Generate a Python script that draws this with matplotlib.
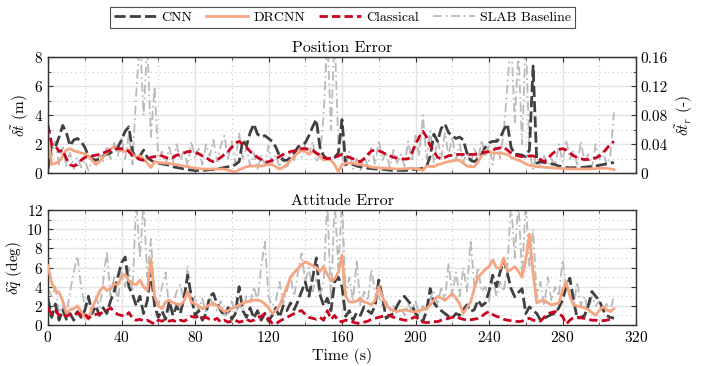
import numpy as np
import matplotlib
matplotlib.use("Agg")
import matplotlib.pyplot as plt
from matplotlib.ticker import MultipleLocator, FixedLocator, FuncFormatter

plt.rcParams["font.family"] = "serif"
plt.rcParams["font.serif"] = ["cmr10"]
plt.rcParams["mathtext.fontset"] = "cm"
plt.rcParams["axes.formatter.use_mathtext"] = True
plt.rcParams["axes.unicode_minus"] = False

# time stamps (s), one sample every 2 s
time = np.arange(0, 310, 2)

labels = ["CNN", "DRCNN", "Classical", "SLAB Baseline"]

# ---- position error (m) ----
pos_cnn = [
    0.3, 2.0, 1.8, 2.5, 3.3, 2.8, 1.9, 2.3, 2.4, 2.2,
    1.8, 1.2, 1.0, 0.9, 1.0, 1.2, 1.3, 1.4, 1.6, 1.8,
    2.3, 2.9, 3.2, 1.5, 1.0, 1.2, 1.6, 1.1, 0.9, 0.75,
    0.7, 0.65, 0.6, 0.55, 0.45, 0.4, 0.35, 0.3, 0.25, 0.22,
    0.2, 0.2, 0.2, 0.22, 0.25, 0.25, 0.3, 0.35, 0.4, 0.45,
    0.5, 0.6, 0.8, 2.3, 1.9, 2.8, 3.4, 2.7, 2.5, 2.6,
    2.4, 2.2, 1.8, 1.2, 0.9, 0.9, 1.1, 1.4, 1.8, 2.0,
    2.1, 2.6, 3.2, 3.7, 1.8, 1.2, 1.0, 1.0, 1.1, 1.4,
    3.7, 0.6, 0.7, 0.6, 0.5, 0.45, 0.4, 0.35, 0.32, 0.3,
    0.3, 0.28, 0.25, 0.22, 0.2, 0.2, 0.2, 0.2, 0.22, 0.25,
    0.28, 0.3, 0.35, 0.45, 1.2, 2.7, 2.2, 3.1, 3.4, 2.8,
    2.6, 2.4, 2.5, 2.3, 1.4, 0.9, 0.8, 1.0, 1.3, 1.8,
    2.1, 2.2, 2.2, 2.4, 3.0, 3.4, 1.8, 1.3, 1.3, 1.25,
    1.15, 1.6, 7.4, 0.7, 0.8, 0.75, 0.7, 0.65, 0.6, 0.5,
    0.45, 0.4, 0.38, 0.38, 0.4, 0.4, 0.42, 0.45, 0.48, 0.5,
    0.55, 0.6, 0.65, 0.7, 0.75,
]
pos_drcnn = [
    2.6, 0.6, 0.7, 0.8, 1.2, 1.6, 1.7, 1.55, 1.5, 1.4,
    1.35, 1.2, 0.9, 0.6, 0.8, 1.1, 1.4, 1.7, 1.8, 1.65,
    1.55, 1.5, 1.6, 1.3, 1.1, 1.2, 1.0, 0.7, 0.4, 0.8,
    0.75, 0.72, 0.7, 0.68, 0.62, 0.6, 0.55, 0.5, 0.45, 0.4,
    0.35, 0.33, 0.3, 0.3, 0.3, 0.3, 0.3, 0.3, 0.28, 0.22,
    0.15, 0.1, 0.25, 0.35, 0.45, 0.5, 0.5, 0.5, 0.5, 0.55,
    0.6, 0.6, 0.45, 0.3, 0.4, 0.6, 0.9, 1.2, 1.4, 1.6,
    1.5, 1.3, 1.5, 1.35, 1.2, 0.9, 1.0, 0.9, 0.6, 0.1,
    0.6, 0.7, 0.7, 0.7, 0.62, 0.6, 0.55, 0.5, 0.42, 0.4,
    0.38, 0.36, 0.35, 0.33, 0.32, 0.3, 0.3, 0.32, 0.33, 0.35,
    0.32, 0.28, 0.2, 0.5, 0.48, 0.45, 0.6, 0.65, 0.75, 0.8,
    0.85, 0.9, 0.9, 0.7, 0.5, 0.45, 0.45, 0.8, 1.2, 1.55,
    1.5, 1.4, 1.4, 1.4, 1.35, 1.3, 1.1, 1.0, 0.9, 0.8,
    0.65, 0.55, 0.5, 0.45, 0.45, 0.42, 0.4, 0.38, 0.36, 0.35,
    0.33, 0.3, 0.3, 0.3, 0.3, 0.3, 0.3, 0.3, 0.3, 0.32,
    0.35, 0.35, 0.35, 0.3, 0.25,
]
pos_classical = [
    3.3, 2.0, 1.9, 1.5, 1.6, 1.0, 0.6, 0.5, 0.6, 0.9,
    1.1, 1.15, 1.2, 1.25, 1.3, 1.4, 1.5, 1.6, 1.65, 1.7,
    1.7, 1.7, 1.5, 1.2, 1.1, 0.95, 0.9, 1.0, 1.1, 1.15,
    1.2, 1.2, 1.1, 1.0, 1.1, 1.25, 1.3, 1.4, 1.5, 1.5,
    1.45, 1.35, 1.2, 1.1, 0.9, 0.8, 0.9, 1.1, 1.3, 1.5,
    1.8, 2.1, 2.2, 2.0, 1.8, 1.5, 1.3, 1.1, 0.95, 0.75,
    0.8, 0.9, 1.0, 1.15, 1.3, 1.4, 1.5, 1.55, 1.6, 1.7,
    1.7, 1.65, 1.6, 1.4, 1.25, 1.1, 1.0, 1.05, 1.1, 1.2,
    1.3, 1.2, 1.1, 1.0, 0.85, 0.8, 1.0, 1.3, 1.55, 1.6,
    1.55, 1.45, 1.3, 1.2, 1.1, 1.05, 1.0, 0.98, 1.0, 1.4,
    2.0, 2.5, 2.9, 2.5, 1.9, 1.5, 1.1, 1.0, 1.1, 1.2,
    1.25, 1.3, 1.3, 1.3, 1.3, 1.3, 1.3, 1.35, 1.4, 1.45,
    1.5, 1.6, 1.7, 1.75, 1.8, 1.6, 1.4, 1.25, 1.2, 1.15,
    1.15, 1.2, 1.2, 1.1, 0.95, 0.8, 1.0, 1.3, 1.5, 1.65,
    1.7, 1.6, 1.4, 1.2, 1.1, 1.0, 0.95, 0.95, 1.0, 1.05,
    1.2, 1.4, 1.7, 2.0, 2.2,
]
pos_slab = [
    2.8, 1.2, 2.2, 0.6, 1.8, 0.5, 1.4, 0.3, 1.1, 0.4,
    0.9, 0.2, 1.0, 0.5, 1.3, 0.8, 1.9, 1.0, 2.1, 1.2,
    2.4, 1.0, 2.7, 0.6, 5.5, 9.5, 4.0, 9.0, 2.5, 6.0,
    1.0, 1.5, 0.6, 1.8, 0.7, 2.0, 0.9, 1.6, 0.5, 2.2,
    1.0, 1.7, 0.6, 2.0, 1.2, 2.3, 0.8, 1.9, 2.6, 1.0,
    2.2, 0.7, 2.8, 0.9, 1.8, 0.5, 1.4, 0.3, 1.2, 0.6,
    1.9, 0.7, 1.3, 0.4, 1.1, 0.3, 1.4, 0.9, 1.9, 1.1,
    2.0, 1.3, 2.2, 0.8, 1.2, 4.0, 9.5, 3.0, 9.5, 2.0,
    1.2, 0.4, 1.5, 0.3, 1.0, 0.2, 1.2, 0.5, 1.8, 0.6,
    2.3, 0.9, 1.5, 0.4, 1.6, 0.7, 1.3, 0.5, 2.2, 0.8,
    2.6, 1.2, 4.0, 1.0, 2.9, 0.7, 2.4, 1.0, 2.8, 1.2,
    2.5, 0.9, 2.0, 0.7, 1.6, 0.5, 1.8, 0.8, 2.3, 1.1,
    2.0, 0.6, 2.4, 1.0, 2.8, 6.0, 9.5, 3.5, 8.5, 2.0,
    9.5, 1.5, 0.3, 1.4, 0.4, 1.2, 0.6, 1.0, 0.5, 2.0,
    0.8, 2.3, 1.0, 1.6, 0.6, 2.2, 0.7, 1.3, 0.4, 2.0,
    1.0, 1.5, 0.6, 1.2, 4.2,
]

# ---- attitude error (deg) ----
att_cnn = [
    2.8, 0.8, 2.2, 0.5, 1.6, 0.6, 1.2, 0.5, 1.4, 0.8,
    1.5, 3.0, 1.2, 2.0, 1.0, 1.8, 1.2, 2.5, 3.5, 5.0,
    6.5, 7.1, 4.0, 3.2, 2.0, 3.0, 1.2, 2.5, 5.6, 2.0,
    0.8, 1.5, 0.6, 2.5, 1.0, 2.0, 1.2, 2.8, 5.2, 3.0,
    1.0, 1.5, 0.5, 1.2, 3.0, 3.3, 2.2, 1.5, 1.0, 1.8,
    0.6, 1.2, 4.0, 1.5, 0.8, 1.8, 0.7, 1.5, 0.5, 1.2,
    0.4, 1.0, 1.8, 0.8, 2.0, 1.5, 2.3, 1.6, 2.5, 3.5,
    4.5, 3.0, 4.9, 7.0, 3.2, 2.0, 2.8, 1.5, 4.5, 5.0,
    4.0, 0.9, 1.5, 0.5, 1.3, 1.0, 1.9, 1.5, 1.2, 2.0,
    4.7, 2.9, 0.7, 1.0, 1.2, 2.0, 2.7, 3.0, 2.5, 2.1,
    1.2, 0.8, 0.35, 1.5, 3.8, 2.3, 1.8, 1.5, 1.2, 0.9,
    0.7, 1.2, 1.0, 1.6, 2.1, 1.4, 1.6, 2.6, 2.0, 2.3,
    3.5, 5.2, 4.0, 5.5, 6.8, 5.4, 3.8, 2.95, 3.4, 3.8,
    1.2, 1.9, 1.5, 1.2, 0.5, 0.7, 0.9, 1.1, 1.2, 1.8,
    2.6, 4.0, 4.9, 2.6, 0.7, 0.8, 1.0, 2.0, 3.5, 3.0,
    2.6, 1.6, 1.0, 0.8, 0.7,
]
att_drcnn = [
    6.2, 4.4, 3.6, 3.4, 2.5, 1.2, 1.6, 1.7, 2.0, 1.4,
    0.8, 0.6, 1.8, 2.6, 3.5, 4.0, 3.6, 3.8, 4.3, 4.2,
    5.0, 5.3, 4.6, 4.3, 4.2, 4.7, 4.0, 3.6, 6.9, 3.0,
    2.0, 1.7, 2.4, 2.6, 2.3, 2.2, 2.1, 2.5, 3.5, 2.4,
    2.2, 2.0, 1.7, 1.9, 2.1, 2.3, 2.0, 1.7, 1.4, 1.5,
    1.7, 1.9, 2.1, 2.3, 2.4, 2.5, 2.6, 2.6, 2.5, 2.2,
    1.8, 1.2, 1.5, 2.0, 3.0, 4.0, 5.0, 5.5, 5.9, 6.3,
    6.6, 6.4, 6.2, 6.0, 5.6, 6.1, 5.3, 4.6, 4.8, 5.5,
    7.3, 3.0, 2.4, 2.4, 2.5, 2.8, 2.4, 2.3, 2.1, 2.6,
    4.0, 3.0, 2.0, 1.7, 1.5, 1.4, 1.5, 1.6, 1.5, 1.4,
    1.4, 1.5, 1.6, 1.7, 2.1, 2.6, 3.0, 2.8, 2.6, 2.9,
    3.3, 2.8, 2.2, 1.2, 1.8, 2.4, 3.8, 5.0, 5.4, 5.8,
    6.1, 6.8, 6.0, 5.9, 7.0, 5.6, 5.8, 6.1, 5.6, 5.0,
    6.8, 9.5, 5.4, 2.3, 2.5, 2.6, 2.3, 2.1, 2.2, 2.3,
    3.6, 4.5, 3.0, 2.1, 2.0, 1.9, 1.8, 1.6, 1.3, 1.0,
    1.5, 1.9, 1.6, 1.4, 1.7,
]
att_classical = [
    1.8, 1.1, 1.5, 1.0, 1.2, 0.9, 1.1, 1.0, 1.3, 1.0,
    1.2, 0.7, 1.0, 1.1, 1.2, 1.3, 1.5, 1.8, 1.4, 1.1,
    1.0, 0.9, 1.3, 0.7, 0.5, 0.6, 0.4, 0.5, 0.3, 0.1,
    0.5, 0.4, 0.6, 0.4, 0.5, 0.3, 0.5, 0.4, 0.6, 0.9,
    0.8, 0.9, 0.7, 0.8, 0.6, 0.5, 0.7, 0.3, 0.5, 0.3,
    0.4, 0.5, 0.3, 0.4, 0.6, 0.4, 0.5, 0.8, 0.9, 1.2,
    0.6, 0.2, 0.1, 0.4, 0.6, 0.8, 1.0, 1.2, 1.4, 1.5,
    1.1, 0.8, 0.7, 0.6, 0.8, 0.5, 1.5, 0.6, 1.0, 0.4,
    0.35, 0.5, 0.5, 0.3, 0.2, 0.15, 0.3, 0.4, 0.6, 0.7,
    0.8, 0.9, 1.0, 1.0, 0.8, 0.7, 0.6, 0.5, 0.5, 0.7,
    0.85, 0.6, 0.3, 0.25, 0.3, 0.35, 0.35, 0.5, 0.6, 0.7,
    0.8, 0.9, 0.7, 0.6, 0.5, 0.55, 0.6, 0.7, 0.9, 1.2,
    1.4, 1.1, 0.9, 0.8, 0.6, 0.5, 0.45, 0.4, 0.35, 0.4,
    0.6, 0.7, 0.5, 0.45, 0.4, 0.8, 1.2, 1.3, 1.4, 1.2,
    0.9, 0.1, 0.5, 0.8, 0.8, 0.75, 0.7, 0.6, 0.5, 0.5,
    0.45, 0.45, 0.5, 0.6, 0.7,
]
att_slab = [
    3.8, 3.0, 4.0, 1.2, 2.0, 1.0, 3.5, 5.5, 7.2, 4.0,
    2.0, 2.8, 1.2, 3.0, 1.8, 4.5, 7.7, 3.0, 5.0, 2.5,
    5.5, 4.0, 6.0, 3.5, 13.0, 7.0, 13.0, 5.0, 9.0, 3.0,
    2.0, 4.0, 5.5, 1.5, 2.0, 3.5, 4.2, 2.5, 6.2, 2.0,
    3.0, 1.5, 2.8, 1.2, 3.0, 2.0, 1.5, 2.5, 1.0, 1.2,
    2.5, 1.2, 2.0, 1.5, 3.0, 2.2, 4.0, 2.5, 6.0, 8.7,
    3.0, 2.0, 2.5, 4.5, 2.2, 3.5, 5.0, 3.0, 5.5, 7.5,
    4.5, 6.0, 3.5, 5.0, 3.0, 4.5, 13.0, 2.5, 13.0, 6.0,
    13.0, 3.0, 5.0, 2.5, 6.8, 2.0, 3.5, 2.5, 5.8, 3.5,
    3.0, 2.0, 2.5, 1.5, 2.0, 1.2, 1.8, 1.0, 2.2, 1.5,
    2.5, 1.2, 2.0, 1.5, 2.8, 3.5, 2.0, 4.0, 2.5, 6.5,
    3.0, 5.5, 3.0, 6.0, 3.5, 8.9, 4.0, 6.0, 3.5, 4.0,
    2.5, 5.0, 3.0, 4.5, 3.5, 6.0, 13.0, 7.0, 13.0, 5.0,
    13.0, 6.0, 10.0, 3.0, 4.5, 2.0, 5.0, 2.5, 4.0, 3.0,
    6.8, 4.0, 3.5, 2.0, 4.5, 2.0, 3.0, 1.5, 3.0, 2.0,
    2.5, 1.5, 2.2, 1.5, 3.0,
]

colors = {"CNN": "#404040", "DRCNN": "#f4a582", "Classical": "#ca0020",
          "SLAB Baseline": "#bababa"}


def draw(ax, cnn, drcnn, classical, slab):
    ax.plot(time, slab, color=colors["SLAB Baseline"], lw=1.3, ls="-.",
            dashes=(5, 2, 1, 2), label="SLAB Baseline", zorder=2)
    ax.plot(time, cnn, color=colors["CNN"], lw=2.0, ls="--",
            dashes=(4, 1.5), label="CNN", zorder=3)
    ax.plot(time, drcnn, color=colors["DRCNN"], lw=2.0, label="DRCNN", zorder=4)
    ax.plot(time, classical, color=colors["Classical"], lw=2.0, ls="--",
            dashes=(3, 1.5), label="Classical", zorder=5)


def style(ax, ymax, ystep):
    ax.set_xlim(0, 320)
    ax.set_ylim(0, ymax)
    ax.xaxis.set_major_locator(MultipleLocator(40))
    ax.xaxis.set_minor_locator(MultipleLocator(20))
    ax.yaxis.set_major_locator(MultipleLocator(ystep))
    ax.yaxis.set_minor_locator(MultipleLocator(ystep / 2))
    ax.grid(which="major", color="#e3e3e3", lw=1.0, ls="-")
    ax.grid(which="minor", color="#c8c8c8", lw=0.8, ls=(0, (1, 3)))
    ax.set_axisbelow(True)
    ax.tick_params(which="both", direction="in", top=True, labelsize=11,
                   color="#333333")
    ax.tick_params(which="major", length=3.5)
    ax.tick_params(which="minor", length=2)
    for sp in ax.spines.values():
        sp.set_color("#333333")
        sp.set_linewidth(1.0)


fig = plt.figure(figsize=(7.02, 3.66), dpi=100)
ax1 = fig.add_axes([0.0684, 0.5265, 0.8376, 0.317])
ax2 = fig.add_axes([0.0684, 0.112, 0.8376, 0.314])

draw(ax1, pos_cnn, pos_drcnn, pos_classical, pos_slab)
style(ax1, 8, 2)
ax1.tick_params(labelbottom=False, right=False)
ax1.set_ylabel(r"$\delta\tilde{t}$ (m)", fontsize=11, labelpad=2)
ax1.set_title("Position Error", fontsize=11.5, pad=4)

axr = ax1.twinx()
axr.set_ylim(0, 0.16)
axr.yaxis.set_major_locator(FixedLocator([0, 0.04, 0.08, 0.12, 0.16]))
axr.yaxis.set_minor_locator(FixedLocator([0.02, 0.06, 0.10, 0.14]))
axr.yaxis.set_major_formatter(FuncFormatter(lambda v, p: "0" if v == 0 else f"{v:.2f}"))
axr.tick_params(which="both", direction="in", labelsize=11, color="#333333")
axr.tick_params(which="major", length=3.5)
axr.tick_params(which="minor", length=2)
axr.set_ylabel(r"$\delta\tilde{t}_r$ (-)", fontsize=11, labelpad=4)
for sp in axr.spines.values():
    sp.set_color("#333333")

draw(ax2, att_cnn, att_drcnn, att_classical, att_slab)
style(ax2, 12, 2)
ax2.tick_params(right=True)
ax2.set_ylabel(r"$\delta\tilde{q}$ (deg)", fontsize=11, labelpad=2)
ax2.set_title("Attitude Error", fontsize=11.5, pad=4)
ax2.set_xlabel("Time (s)", fontsize=11.5, labelpad=2)

handles, labs = ax1.get_legend_handles_labels()
order = [labs.index(l) for l in labels]
leg = fig.legend([handles[i] for i in order], [labs[i] for i in order],
                 loc="upper center", bbox_to_anchor=(0.488, 1.0), ncol=4,
                 fontsize=10, frameon=True, fancybox=False, handlelength=3.0,
                 columnspacing=1.0, handletextpad=0.4, borderpad=0.3)
leg.get_frame().set_edgecolor("#222222")
leg.get_frame().set_linewidth(0.8)

fig.savefig("out.png", dpi=100)
